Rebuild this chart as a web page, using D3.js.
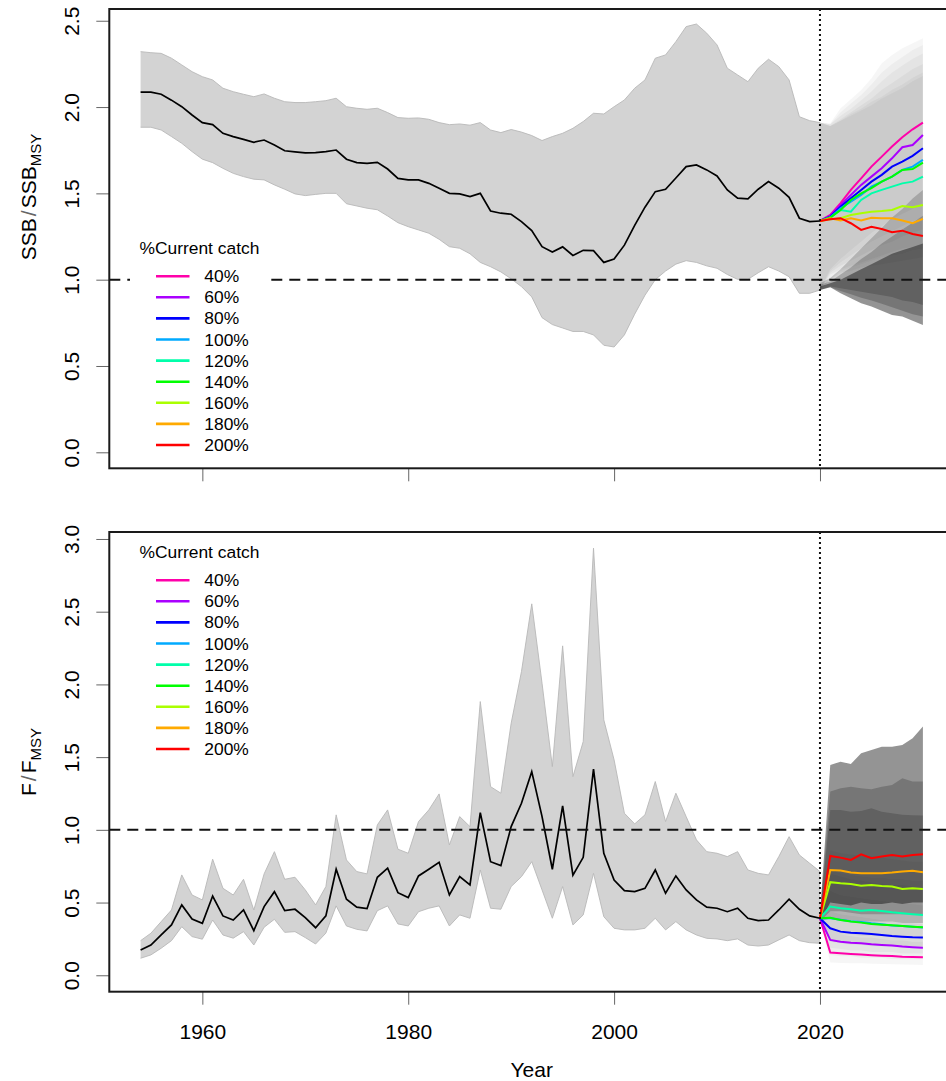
<!DOCTYPE html>
<html>
<head>
<meta charset="utf-8">
<script src="https://cdn.jsdelivr.net/npm/d3@7"></script>
<style>
  html, body { margin: 0; padding: 0; background: #fff; }
  svg { display: block; font-family: "Liberation Sans", Arial, Helvetica, sans-serif; }
</style>
</head>
<body>
<svg id="chart" width="946" height="1081"></svg>
<script>
// ---- data ----
const years = d3.range(1954, 2021);
const projYears = d3.range(2020, 2031);
const scenarios = ["40%", "60%", "80%", "100%", "120%", "140%", "160%", "180%", "200%"];
const scenarioColors = ["#FF00AA", "#AA00FF", "#0000FF", "#00AAFF", "#00FFAA", "#00FF00", "#AAFF00", "#FFAA00", "#FF0000"];
const xTicks = [1960, 1980, 2000, 2020];
const ssbTicks = [0, 0.5, 1, 1.5, 2, 2.5];
const fTicks = [0, 0.5, 1, 1.5, 2, 2.5, 3];

const ssbMedian = [2.086, 2.086, 2.074, 2.040, 2.002, 1.954, 1.910, 1.898, 1.848, 1.829, 1.813, 1.796, 1.809, 1.780, 1.747, 1.740, 1.734, 1.736, 1.742, 1.751,
  1.698, 1.678, 1.674, 1.680, 1.641, 1.587, 1.578, 1.578, 1.558, 1.529, 1.500, 1.497, 1.481, 1.500, 1.398, 1.385, 1.379, 1.336, 1.284, 1.191,
  1.160, 1.190, 1.140, 1.170, 1.168, 1.100, 1.120, 1.200, 1.315, 1.420, 1.510, 1.524, 1.589, 1.655, 1.665, 1.636, 1.601, 1.520, 1.472, 1.468,
  1.524, 1.568, 1.530, 1.477, 1.356, 1.336, 1.340];
const ssbUpper = [2.321, 2.315, 2.311, 2.283, 2.244, 2.205, 2.176, 2.157, 2.109, 2.089, 2.074, 2.060, 2.076, 2.051, 2.031, 2.026, 2.026, 2.031, 2.037, 2.051,
  2.002, 1.993, 1.987, 1.993, 1.968, 1.939, 1.935, 1.937, 1.929, 1.910, 1.898, 1.902, 1.895, 1.910, 1.867, 1.852, 1.870, 1.855, 1.835, 1.806,
  1.829, 1.848, 1.877, 1.916, 1.964, 1.960, 2.002, 2.041, 2.109, 2.157, 2.283, 2.302, 2.379, 2.466, 2.481, 2.428, 2.360, 2.225, 2.186, 2.147,
  2.225, 2.277, 2.234, 2.157, 1.944, 1.921, 1.910];
const ssbLower = [1.883, 1.883, 1.867, 1.829, 1.790, 1.742, 1.698, 1.678, 1.645, 1.616, 1.597, 1.582, 1.578, 1.549, 1.524, 1.497, 1.487, 1.494, 1.500, 1.500,
  1.440, 1.427, 1.414, 1.405, 1.369, 1.330, 1.307, 1.288, 1.269, 1.234, 1.191, 1.182, 1.150, 1.100, 1.075, 1.045, 1.005, 0.960, 0.900, 0.780,
  0.740, 0.720, 0.700, 0.700, 0.680, 0.620, 0.610, 0.680, 0.800, 0.910, 1.000, 1.050, 1.090, 1.110, 1.100, 1.080, 1.066, 1.030, 1.002, 1.002,
  1.040, 1.075, 1.050, 1.017, 0.921, 0.921, 0.940];

const ssbProj = [
  [1.34, 1.375, 1.443, 1.520, 1.587, 1.655, 1.713, 1.771, 1.825, 1.871, 1.910],
  [1.34, 1.370, 1.433, 1.491, 1.549, 1.597, 1.645, 1.703, 1.767, 1.780, 1.838],
  [1.34, 1.365, 1.423, 1.472, 1.520, 1.568, 1.607, 1.655, 1.684, 1.717, 1.761],
  [1.34, 1.360, 1.414, 1.452, 1.491, 1.539, 1.568, 1.597, 1.636, 1.655, 1.694],
  [1.34, 1.360, 1.404, 1.394, 1.462, 1.500, 1.520, 1.539, 1.558, 1.568, 1.597],
  [1.34, 1.360, 1.404, 1.462, 1.500, 1.530, 1.568, 1.597, 1.636, 1.641, 1.678],
  [1.34, 1.350, 1.356, 1.375, 1.385, 1.394, 1.398, 1.404, 1.427, 1.420, 1.433],
  [1.34, 1.356, 1.343, 1.356, 1.343, 1.358, 1.356, 1.356, 1.343, 1.327, 1.352],
  [1.34, 1.350, 1.356, 1.327, 1.288, 1.307, 1.294, 1.275, 1.284, 1.265, 1.253]
];
const ssbProjHi = [
  [1.91, 1.906, 1.993, 2.045, 2.099, 2.167, 2.254, 2.302, 2.341, 2.370, 2.399],
  [1.91, 1.90, 1.97, 2.02, 2.07, 2.13, 2.20, 2.25, 2.29, 2.33, 2.36],
  [1.91, 1.90, 1.95, 1.99, 2.04, 2.09, 2.15, 2.20, 2.24, 2.28, 2.31],
  [1.91, 1.89, 1.93, 1.97, 2.01, 2.05, 2.10, 2.14, 2.18, 2.22, 2.25],
  [1.91, 1.89, 1.92, 1.95, 1.98, 2.01, 2.05, 2.08, 2.11, 2.15, 2.18],
  [1.91, 1.89, 1.92, 1.96, 1.99, 2.03, 2.06, 2.10, 2.13, 2.17, 2.20],
  [0.98, 1.01, 1.06, 1.12, 1.18, 1.24, 1.30, 1.36, 1.41, 1.47, 1.52],
  [0.97, 0.99, 1.03, 1.07, 1.12, 1.16, 1.21, 1.25, 1.29, 1.33, 1.37],
  [0.96, 0.98, 1.00, 1.03, 1.06, 1.09, 1.12, 1.15, 1.17, 1.19, 1.21]
];
const ssbProjLo = [
  [0.94, 1.06, 1.12, 1.17, 1.22, 1.27, 1.31, 1.35, 1.38, 1.41, 1.44],
  [0.94, 1.05, 1.10, 1.14, 1.18, 1.22, 1.25, 1.28, 1.31, 1.34, 1.36],
  [0.94, 1.04, 1.08, 1.11, 1.14, 1.17, 1.20, 1.22, 1.25, 1.27, 1.29],
  [0.94, 1.03, 1.06, 1.08, 1.10, 1.12, 1.14, 1.16, 1.18, 1.19, 1.21],
  [0.94, 1.00, 1.04, 1.05, 1.07, 1.08, 1.09, 1.10, 1.11, 1.12, 1.13],
  [0.94, 1.00, 1.05, 1.07, 1.09, 1.11, 1.13, 1.14, 1.15, 1.17, 1.18],
  [0.94, 0.960, 0.950, 0.940, 0.930, 0.920, 0.910, 0.900, 0.880, 0.870, 0.853],
  [0.94, 0.956, 0.935, 0.915, 0.895, 0.880, 0.860, 0.840, 0.820, 0.800, 0.786],
  [0.94, 0.956, 0.921, 0.892, 0.863, 0.844, 0.820, 0.795, 0.786, 0.762, 0.738]
];

const fMedian = [0.174, 0.208, 0.277, 0.346, 0.484, 0.387, 0.357, 0.545, 0.408, 0.380, 0.449, 0.307, 0.472, 0.575, 0.444, 0.454, 0.396, 0.327, 0.408, 0.729,
  0.523, 0.468, 0.458, 0.674, 0.736, 0.568, 0.534, 0.683, 0.729, 0.777, 0.552, 0.678, 0.621, 1.118, 0.781, 0.754, 1.022, 1.183, 1.400, 1.091,
  0.729, 1.164, 0.688, 0.811, 1.417, 0.839, 0.655, 0.582, 0.575, 0.598, 0.724, 0.564, 0.683, 0.587, 0.518, 0.468, 0.461, 0.437, 0.461, 0.392,
  0.376, 0.380, 0.449, 0.523, 0.454, 0.408, 0.392];
const fUpper = [0.238, 0.289, 0.369, 0.449, 0.690, 0.552, 0.518, 0.798, 0.598, 0.552, 0.660, 0.449, 0.697, 0.850, 0.660, 0.674, 0.587, 0.484, 0.610, 1.103,
  0.793, 0.713, 0.697, 1.034, 1.137, 0.867, 0.839, 1.057, 1.137, 1.247, 0.896, 1.091, 1.022, 1.882, 1.297, 1.252, 1.733, 2.088, 2.554, 2.008,
  1.435, 2.265, 1.366, 1.607, 2.937, 1.756, 1.481, 1.114, 1.041, 1.103, 1.332, 1.057, 1.252, 1.091, 0.931, 0.850, 0.839, 0.816, 0.850, 0.724,
  0.701, 0.690, 0.816, 0.953, 0.827, 0.770, 0.713];
const fLower = [0.117, 0.140, 0.186, 0.238, 0.334, 0.266, 0.248, 0.380, 0.277, 0.255, 0.300, 0.208, 0.330, 0.385, 0.295, 0.300, 0.259, 0.215, 0.290, 0.477,
  0.339, 0.316, 0.305, 0.444, 0.477, 0.353, 0.339, 0.437, 0.461, 0.477, 0.339, 0.415, 0.392, 0.724, 0.461, 0.454, 0.610, 0.678, 0.781, 0.587,
  0.392, 0.610, 0.346, 0.415, 0.701, 0.403, 0.323, 0.312, 0.312, 0.323, 0.392, 0.312, 0.369, 0.312, 0.277, 0.254, 0.250, 0.238, 0.250, 0.208,
  0.201, 0.208, 0.243, 0.277, 0.238, 0.224, 0.220];

const fProj = [
  [0.392, 0.156, 0.151, 0.147, 0.142, 0.138, 0.135, 0.133, 0.128, 0.126, 0.124],
  [0.392, 0.243, 0.231, 0.224, 0.220, 0.213, 0.208, 0.204, 0.197, 0.193, 0.190],
  [0.392, 0.323, 0.300, 0.293, 0.289, 0.284, 0.277, 0.270, 0.265, 0.261, 0.259],
  [0.392, 0.392, 0.382, 0.372, 0.366, 0.357, 0.350, 0.343, 0.338, 0.333, 0.328],
  [0.392, 0.472, 0.461, 0.454, 0.444, 0.449, 0.442, 0.433, 0.426, 0.420, 0.415],
  [0.392, 0.396, 0.380, 0.369, 0.362, 0.353, 0.348, 0.344, 0.339, 0.334, 0.330],
  [0.392, 0.640, 0.633, 0.628, 0.616, 0.621, 0.614, 0.610, 0.594, 0.598, 0.594],
  [0.392, 0.724, 0.720, 0.706, 0.701, 0.701, 0.701, 0.706, 0.713, 0.718, 0.708],
  [0.392, 0.820, 0.809, 0.793, 0.832, 0.805, 0.816, 0.827, 0.816, 0.827, 0.832]
];
const fProjHi = [
  [0.42, 0.29, 0.28, 0.27, 0.26, 0.26, 0.25, 0.24, 0.24, 0.23, 0.23],
  [0.42, 0.44, 0.42, 0.41, 0.40, 0.39, 0.38, 0.37, 0.36, 0.36, 0.35],
  [0.42, 0.58, 0.55, 0.54, 0.53, 0.52, 0.51, 0.50, 0.49, 0.49, 0.48],
  [0.42, 0.70, 0.68, 0.66, 0.65, 0.64, 0.63, 0.62, 0.62, 0.61, 0.60],
  [0.42, 0.86, 0.84, 0.83, 0.82, 0.82, 0.81, 0.80, 0.79, 0.78, 0.78],
  [0.42, 0.72, 0.70, 0.69, 0.68, 0.67, 0.67, 0.66, 0.66, 0.65, 0.65],
  [0.42, 1.137, 1.137, 1.125, 1.130, 1.149, 1.125, 1.114, 1.103, 1.100, 1.098],
  [0.42, 1.263, 1.286, 1.297, 1.286, 1.279, 1.297, 1.309, 1.355, 1.332, 1.332],
  [0.42, 1.446, 1.469, 1.453, 1.527, 1.549, 1.572, 1.572, 1.584, 1.630, 1.710]
];
const fProjLo = [
  [0.37, 0.087, 0.085, 0.083, 0.082, 0.080, 0.078, 0.076, 0.074, 0.072, 0.071],
  [0.37, 0.14, 0.13, 0.13, 0.12, 0.12, 0.12, 0.11, 0.11, 0.11, 0.11],
  [0.37, 0.19, 0.18, 0.17, 0.17, 0.16, 0.16, 0.16, 0.15, 0.15, 0.15],
  [0.37, 0.23, 0.22, 0.21, 0.21, 0.20, 0.20, 0.20, 0.19, 0.19, 0.19],
  [0.37, 0.29, 0.28, 0.28, 0.27, 0.27, 0.27, 0.26, 0.26, 0.26, 0.25],
  [0.37, 0.24, 0.23, 0.22, 0.22, 0.21, 0.21, 0.21, 0.20, 0.20, 0.20],
  [0.37, 0.39, 0.38, 0.38, 0.37, 0.37, 0.37, 0.37, 0.36, 0.36, 0.36],
  [0.37, 0.44, 0.44, 0.43, 0.42, 0.42, 0.42, 0.42, 0.42, 0.42, 0.42],
  [0.37, 0.50, 0.49, 0.48, 0.50, 0.49, 0.49, 0.50, 0.49, 0.50, 0.50]
];

// ---- drawing ----
const svg = d3.select("#chart");
const FONT = "'Liberation Sans', Arial, Helvetica, sans-serif";
const boxLeft = 109.3, boxRight = 954.2;
const x = d3.scaleLinear().domain([1950.96, 2033.04]).range([boxLeft, boxRight]);
const shadeAlpha = [0.035, 0.035, 0.035, 0.035, 0.035, 0.035, 0.18, 0.2, 0.42];

function drawPanel(p) {
  const y = d3.scaleLinear().domain(p.yDomain).range([p.bottom, p.top]);
  const g = svg.append("g");
  const band = d3.area().x(d => x(d.year)).y0(d => y(d.lo)).y1(d => y(d.hi));

  // historical interval
  const hist = years.map((yr, i) => ({ year: yr, lo: p.lower[i], hi: p.upper[i] }));
  g.append("path").attr("d", band(hist)).attr("fill", "#d3d3d3");
  const edge = d3.line().x(d => x(d.year));
  [d => y(d.hi), d => y(d.lo)].forEach(fy => {
    g.append("path").attr("d", edge.y(fy)(hist))
      .attr("fill", "none").attr("stroke", "#b8b8b8").attr("stroke-width", 0.9);
  });

  // projection intervals, one per scenario
  p.projLo.forEach((lo, k) => {
    const pts = projYears.map((yr, i) => ({ year: yr, lo: lo[i], hi: p.projHi[k][i] }));
    g.append("path").attr("d", band(pts))
      .attr("fill", "#000").attr("fill-opacity", shadeAlpha[k]);
  });

  // median
  const line = d3.line().x(d => x(d[0])).y(d => y(d[1]));
  g.append("path").attr("d", line(years.map((yr, i) => [yr, p.median[i]])))
    .attr("fill", "none").attr("stroke", "#000").attr("stroke-width", 1.7);

  p.proj.forEach((vals, k) => {
    g.append("path").attr("d", line(projYears.map((yr, i) => [yr, vals[i]])))
      .attr("fill", "none").attr("stroke", scenarioColors[k]).attr("stroke-width", 2);
  });

  // reference lines
  g.append("line").attr("x1", boxLeft).attr("x2", boxRight)
    .attr("y1", y(1)).attr("y2", y(1))
    .attr("stroke", "#111").attr("stroke-width", 2).attr("stroke-dasharray", "11,7");
  g.append("line").attr("x1", x(2020)).attr("x2", x(2020))
    .attr("y1", p.top).attr("y2", p.bottom)
    .attr("stroke", "#111").attr("stroke-width", 2).attr("stroke-dasharray", "2,3");

  // legend
  const lg = g.append("g");
  lg.append("rect").attr("x", 130).attr("y", p.legendY - 15).attr("width", 137).attr("height", 226).attr("fill", "#fff");
  lg.append("text").attr("x", 139.5).attr("y", p.legendY).attr("dy", "0.35em")
    .attr("font-size", 17.4).attr("font-family", FONT).attr("fill", "#000").text("%Current catch");
  const items = lg.selectAll("g.item").data(scenarios).join("g")
    .attr("class", "item")
    .attr("transform", (d, i) => `translate(0,${p.legendY + 28.5 + i * 21.1})`);
  items.append("line").attr("x1", 156).attr("x2", 189.5).attr("y1", 0).attr("y2", 0)
    .attr("stroke", (d, i) => scenarioColors[i]).attr("stroke-width", 2.6);
  items.append("text").attr("x", 204.3).attr("y", 0).attr("dy", "0.35em")
    .attr("font-size", 17.4).attr("font-family", FONT).attr("fill", "#000").text(d => d);

  // axes
  const ya = g.append("g").attr("transform", `translate(${boxLeft},0)`)
    .call(d3.axisLeft(y).tickValues(p.ticks).tickSize(13).tickFormat(d3.format(".1f")));
  ya.select(".domain").remove();
  ya.selectAll(".tick line").attr("stroke", "#666");
  ya.selectAll(".tick text")
    .attr("x", null).attr("dy", "0.35em").attr("text-anchor", "middle")
    .attr("transform", "translate(-37.5,0) rotate(-90)")
    .attr("font-size", 21).attr("font-family", FONT).attr("fill", "#000");

  const xa = g.append("g").attr("transform", `translate(0,${p.bottom})`)
    .call(d3.axisBottom(x).tickValues(xTicks).tickSize(13)
      .tickFormat(p.xLabels ? d3.format("d") : () => ""));
  xa.select(".domain").remove();
  xa.selectAll(".tick line").attr("stroke", "#666");
  xa.selectAll(".tick text").attr("y", 40).attr("dy", "0.35em")
    .attr("font-size", 21).attr("font-family", FONT).attr("fill", "#000");

  // y title
  const t = g.append("text")
    .attr("transform", `translate(29,${p.titleY}) rotate(-90)`)
    .attr("text-anchor", "middle").attr("dy", "0.35em")
    .attr("font-size", 21).attr("font-family", FONT).attr("fill", "#000");
  t.append("tspan").text(p.titleMain);
  t.append("tspan").attr("fill", "#666").attr("dx", 2).text("/");
  t.append("tspan").attr("dx", 2).text(p.titleMain);
  t.append("tspan").attr("font-size", 15).attr("dy", 5).text("MSY");

  // box
  g.append("rect").attr("x", boxLeft).attr("y", p.top)
    .attr("width", boxRight - boxLeft).attr("height", p.bottom - p.top)
    .attr("fill", "none").attr("stroke", "#1a1a1a").attr("stroke-width", 2);
}

drawPanel({
  top: 9, bottom: 468.3, yDomain: [-0.0927, 2.568], ticks: ssbTicks,
  median: ssbMedian, upper: ssbUpper, lower: ssbLower,
  proj: ssbProj, projHi: ssbProjHi, projLo: ssbProjLo,
  legendY: 247.7, titleY: 197, titleMain: "SSB", xLabels: false
});
drawPanel({
  top: 532, bottom: 991.7, yDomain: [-0.113, 3.048], ticks: fTicks,
  median: fMedian, upper: fUpper, lower: fLower,
  proj: fProj, projHi: fProjHi, projLo: fProjLo,
  legendY: 551.7, titleY: 762, titleMain: "F", xLabels: true
});

svg.append("text").attr("x", (boxLeft + boxRight) / 2).attr("y", 1070).attr("dy", "0.35em")
  .attr("text-anchor", "middle").attr("font-size", 21).attr("font-family", FONT)
  .attr("fill", "#000").text("Year");
</script>
</body>
</html>
